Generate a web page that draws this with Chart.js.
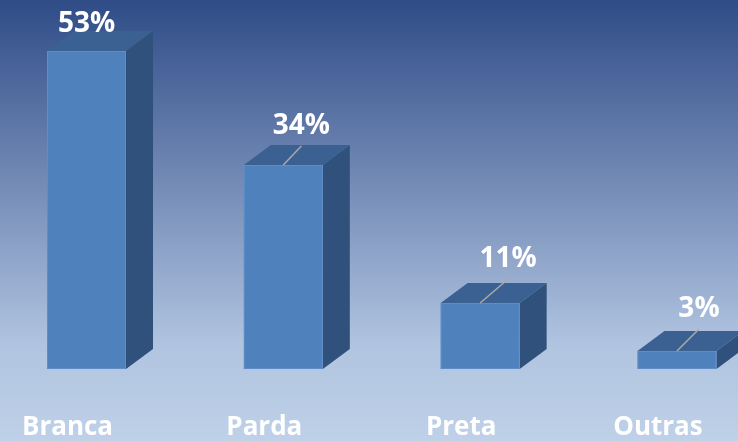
<!DOCTYPE html>
<html>
<head>
<meta charset="utf-8">
<script src="https://cdn.jsdelivr.net/npm/chart.js@4"></script>
<style>
  html, body { margin: 0; padding: 0; background: #b8cce4; }
  #wrap { width: 738px; height: 441px; position: relative; }
</style>
</head>
<body>
<div id="wrap"><canvas id="chart"></canvas></div>
<script>
const categories = ['Branca', 'Parda', 'Preta', 'Outras'];
const percentages = [53, 34, 11, 3];
const valueLabels = ['53%', '34%', '11%', '3%'];

// background gradient behind everything
const backgroundPlugin = {
  id: 'bg',
  beforeDraw(chart) {
    const { ctx, width, height } = chart;
    const g = ctx.createLinearGradient(0, 0, 0, height);
    g.addColorStop(0, '#2f4c87');
    g.addColorStop(0.45, '#7990ba');
    g.addColorStop(0.78, '#b0c4e0');
    g.addColorStop(1, '#bfd1e8');
    ctx.save();
    ctx.fillStyle = g;
    ctx.fillRect(0, 0, width, height);
    ctx.restore();
  }
};

// draw the bars as 3D boxes from the bar elements, then the value labels
const box3dPlugin = {
  id: 'box3d',
  afterDatasetsDraw(chart, args, opts) {
    const { ctx } = chart;
    const meta = chart.getDatasetMeta(0);
    const dx = opts.depthX, dy = opts.depthY;
    ctx.save();
    meta.data.forEach((bar, i) => {
      const half = bar.width / 2;
      const l = bar.x - half, r = bar.x + half;
      const t = bar.y, b = bar.base;

      // side face
      ctx.fillStyle = '#30517c';
      ctx.beginPath();
      ctx.moveTo(r, t);
      ctx.lineTo(r + dx, t - dy);
      ctx.lineTo(r + dx, b - dy);
      ctx.lineTo(r, b);
      ctx.closePath();
      ctx.fill();

      // top face
      ctx.fillStyle = '#3a6191';
      ctx.beginPath();
      ctx.moveTo(l, t);
      ctx.lineTo(l + dx, t - dy);
      ctx.lineTo(r + dx, t - dy);
      ctx.lineTo(r, t);
      ctx.closePath();
      ctx.fill();

      // front face
      ctx.fillStyle = '#4f81bd';
      ctx.fillRect(l, t, r - l, b - t);
      ctx.strokeStyle = 'rgba(110,150,205,0.6)';
      ctx.lineWidth = 1;
      ctx.strokeRect(l + 0.5, t + 0.5, r - l - 1, b - t - 1);

      // value label
      const [ox, oy] = opts.labelShift[i];
      const lx = bar.x + ox, ly = t - oy;
      if (ox > 5) {
        ctx.strokeStyle = '#a9aaac';
        ctx.lineWidth = 1.5;
        ctx.beginPath();
        ctx.moveTo(bar.x, t);
        ctx.lineTo(lx, ly + 12);
        ctx.stroke();
      }
      ctx.fillStyle = '#ffffff';
      ctx.font = 'bold 28px "Open Sans"';
      ctx.textAlign = 'center';
      ctx.textBaseline = 'alphabetic';
      ctx.fillText(valueLabels[i], lx, ly);
    });
    ctx.restore();
  }
};

new Chart(document.getElementById('chart'), {
  type: 'bar',
  data: {
    datasets: [{
      data: percentages.map((v, i) => ({ x: i, y: v })),
      backgroundColor: 'rgba(0,0,0,0)',
      barThickness: 79
    }]
  },
  options: {
    responsive: true,
    maintainAspectRatio: false,
    animation: false,
    layout: { padding: { top: 9, left: 0, right: 0, bottom: 0 } },
    plugins: {
      legend: { display: false },
      tooltip: { enabled: false },
      box3d: {
        depthX: 27,
        depthY: 20,
        labelShift: [[0, 19], [18, 31], [28, 36], [22, 34]]
      }
    },
    scales: {
      x: {
        type: 'linear',
        offset: false,
        bounds: 'data',
        min: -0.4395,
        max: 3.31,
        afterBuildTicks: s => { s.ticks = categories.map((c, i) => ({ value: i })); },
        afterFit: s => {
          s.height = 72;
          s.paddingLeft = 0;
          s.paddingRight = 0;
        },
        grid: { display: false, drawTicks: false },
        border: { display: false },
        ticks: {
          color: '#ffffff',
          font: { family: 'Open Sans', size: 26, weight: 'bold' },
          padding: 43,
          labelOffset: -19,
          maxRotation: 0,
          autoSkip: false,
          callback: v => categories[v]
        }
      },
      y: {
        display: false,
        min: 0,
        max: 60
      }
    }
  },
  plugins: [backgroundPlugin, box3dPlugin]
});
</script>
</body>
</html>
